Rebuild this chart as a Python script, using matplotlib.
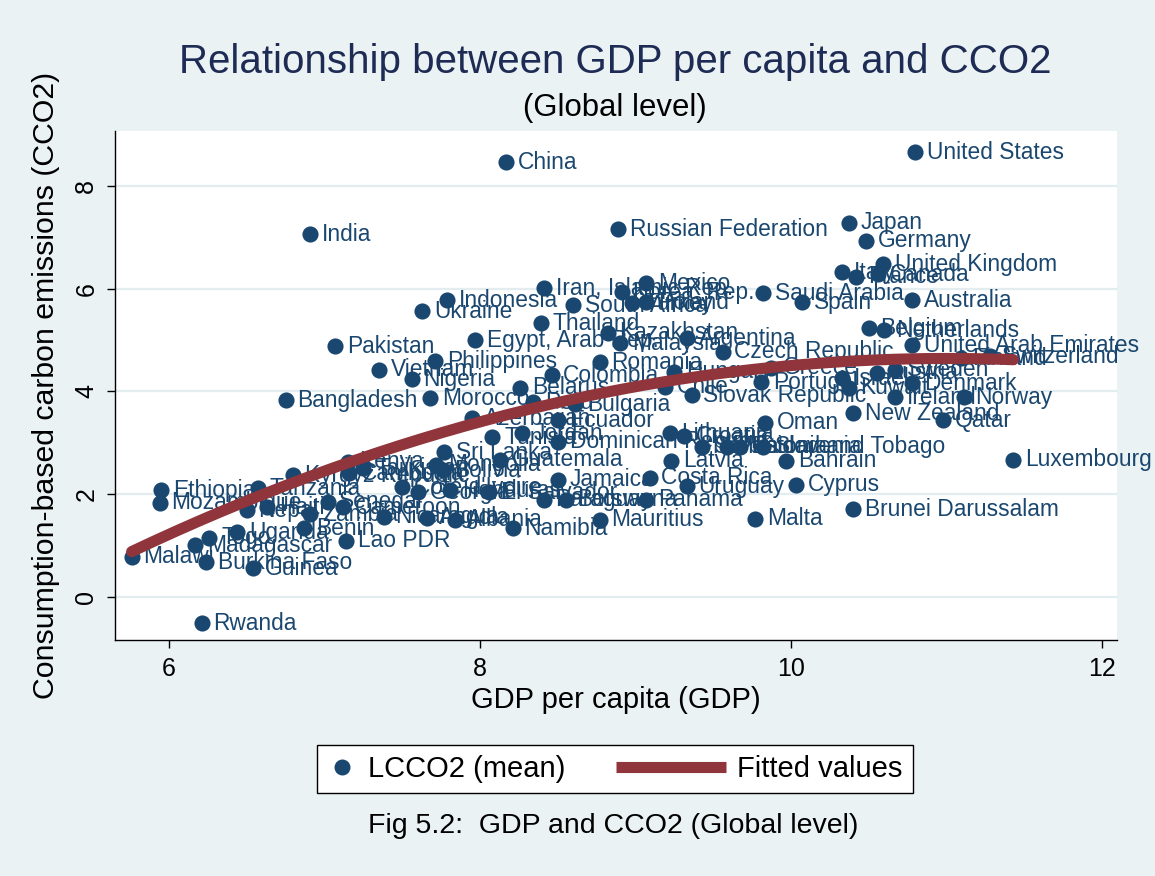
import matplotlib.pyplot as plt
import numpy as np
from matplotlib.legend_handler import HandlerLine2D
from matplotlib.lines import Line2D

plt.rcParams['font.family'] = ['Liberation Sans', 'DejaVu Sans']

# Страны, логарифм ВВП на душу населения и средний LCCO2
country = [
    'United States', 'China', 'India', 'Russian Federation', 'Japan', 'Germany',
    'United Kingdom', 'Italy', 'Canada', 'France', 'Saudi Arabia', 'Spain',
    'Australia', 'Belgium', 'Netherlands', 'United Arab Emirates', 'Switzerland',
    'Finland', 'Austria', 'Sweden', 'Denmark', 'Israel', 'Kuwait', 'Ireland',
    'Norway', 'New Zealand', 'Qatar', 'Greece', 'Portugal', 'Czech Republic',
    'Slovak Republic', 'Oman', 'Bahrain', 'Cyprus', 'Brunei Darussalam', 'Malta',
    'Luxembourg', 'Trinidad and Tobago', 'Slovenia', 'Estonia', 'Croatia',
    'Lithuania', 'Serbia', 'Latvia', 'Costa Rica', 'Uruguay', 'Panama',
    'Botswana', 'Paraguay', 'Mauritius', 'Namibia', 'Albania', 'Angola',
    'Nicaragua', 'El Salvador', 'Honduras', 'Georgia', "Cote d'Ivoire",
    'Jamaica', 'Guatemala', 'Mongolia', 'Bolivia', 'Sri Lanka',
    'Dominican Republic', 'Jordan', 'Tunisia', 'Ecuador', 'Azerbaijan', 'Peru',
    'Bulgaria', 'Morocco', 'Belarus', 'Colombia', 'Romania', 'Chile', 'Hungary',
    'Argentina', 'Malaysia', 'Kazakhstan', 'Thailand', 'Egypt, Arab Rep.',
    'Iran, Islamic Rep.', 'South Africa', 'Mexico', 'Korea, Rep.', 'Turkey',
    'Poland', 'Indonesia', 'Ukraine', 'Pakistan', 'Philippines', 'Vietnam',
    'Nigeria', 'Bangladesh', 'Kenya', 'Tajikistan', 'Cambodia',
    'Kyrgyz Republic', 'Tanzania', 'Ethiopia', 'Mozambique', 'Nepal', 'Haiti',
    'Zambia', 'Senegal', 'Cameroon', 'Benin', 'Lao PDR', 'Uganda', 'Togo',
    'Madagascar', 'Burkina Faso', 'Guinea', 'Malawi', 'Rwanda',
]
gdp = [
    10.80, 8.17, 6.91, 8.89, 10.37, 10.48,
    10.59, 10.33, 10.56, 10.42, 9.82, 10.07,
    10.78, 10.50, 10.60, 10.78, 11.28,
    11.09, 10.55, 10.67, 10.78, 10.33, 10.37, 10.67,
    11.11, 10.40, 10.98, 9.87, 9.81, 9.56,
    9.36, 9.83, 9.97, 10.03, 10.40, 9.77,
    11.43, 9.59, 9.82, 9.67, 9.31,
    9.22, 9.43, 9.23, 9.09, 9.33, 9.07,
    8.55, 8.41, 8.77, 8.21, 7.84, 7.66,
    7.38, 8.06, 7.81, 7.60, 7.50,
    8.50, 8.13, 7.72, 7.76, 7.77,
    8.50, 8.27, 8.08, 8.50, 7.95, 8.34,
    8.61, 7.68, 8.26, 8.46, 8.77, 9.19, 9.25,
    9.33, 8.90, 8.82, 8.39, 7.97,
    8.41, 8.60, 9.07, 8.91, 8.98,
    9.07, 7.79, 7.63, 7.07, 7.71, 7.35,
    7.56, 6.75, 7.15, 7.25, 7.16,
    6.80, 6.57, 5.95, 5.94, 6.50, 6.63,
    6.91, 7.02, 7.12, 6.87, 7.14, 6.44, 6.26,
    6.17, 6.24, 6.54, 5.76, 6.21,
]
cco2 = [
    8.66, 8.46, 7.06, 7.16, 7.28, 6.93,
    6.48, 6.32, 6.28, 6.23, 5.91, 5.74,
    5.78, 5.23, 5.19, 4.90, 4.69,
    4.65, 4.36, 4.42, 4.16, 4.26, 4.07, 3.89,
    3.89, 3.58, 3.44, 4.46, 4.18, 4.77,
    3.93, 3.39, 2.65, 2.18, 1.71, 1.52,
    2.67, 2.92, 2.92, 2.92, 3.13,
    3.19, 2.92, 2.65, 2.32, 2.16, 1.89,
    1.89, 1.89, 1.50, 1.34, 1.50, 1.54,
    1.56, 2.04, 2.08, 2.04, 2.14,
    2.28, 2.67, 2.57, 2.47, 2.82,
    3.02, 3.19, 3.11, 3.44, 3.48, 3.79,
    3.75, 3.87, 4.07, 4.32, 4.57, 4.09, 4.38,
    5.04, 4.94, 5.14, 5.33, 5.00,
    6.01, 5.68, 6.11, 5.93, 5.72,
    5.74, 5.78, 5.56, 4.88, 4.59, 4.42,
    4.24, 3.83, 2.63, 2.51, 2.41,
    2.37, 2.12, 2.08, 1.83, 1.69, 1.75,
    1.61, 1.85, 1.75, 1.34, 1.09, 1.26, 1.15,
    1.01, 0.68, 0.56, 0.78, -0.51,
]

navy = '#1a476f'
maroon = '#90353b'
bg = '#eaf2f3'

gdp = np.array(gdp)
cco2 = np.array(cco2)

# квадратичная аппроксимация (qfit)
coef = np.polyfit(gdp, cco2, 2)
xs = np.linspace(gdp.min(), gdp.max(), 200)
ys = np.polyval(coef, xs)

fig = plt.figure(figsize=(11.55, 8.76), dpi=100, facecolor=bg)
ax = fig.add_axes([115 / 1155, 1 - 640 / 876, 1002 / 1155, 509 / 876])
ax.set_facecolor('white')

ax.scatter(gdp, cco2, s=135, color=navy, zorder=3, linewidths=0,
           label='LCCO2 (mean)')
for name, x, y in zip(country, gdp, cco2):
    ax.annotate(name, (x, y), xytext=(8.5, 0), textcoords='offset points',
                va='center', ha='left', fontsize=16.4, color=navy, zorder=4)
ax.plot(xs, ys, color=maroon, lw=8, solid_capstyle='round', zorder=5,
        label='Fitted values')

ax.set_xlim(5.653, 12.096)
ax.set_ylim(-0.837, 9.07)
ax.set_xticks([6, 8, 10, 12])
ax.set_yticks([0, 2, 4, 6, 8])
ax.tick_params(axis='both', labelsize=18, length=6, width=1, color='black',
               pad=6)
for lab in ax.get_yticklabels():
    lab.set_rotation(90)
    lab.set_va('center')
ax.grid(axis='y', color='#e3ecef', lw=1.6, zorder=0)
ax.set_axisbelow(True)
for side in ['top', 'right']:
    ax.spines[side].set_visible(False)
for side in ['left', 'bottom']:
    ax.spines[side].set_linewidth(1.0)

ax.set_xlabel('GDP per capita (GDP)', fontsize=21, labelpad=4)
ax.set_ylabel('Consumption-based carbon emissions (CCO2)', fontsize=21.8,
              labelpad=10)

fig.text(615 / 1155, 1 - 62 / 876, 'Relationship between GDP per capita and CCO2',
         ha='center', va='center', fontsize=29, color='#1e2c55')
fig.text(615 / 1155, 1 - 108 / 876, '(Global level)', ha='center', va='center',
         fontsize=22.4, color='black')
fig.text(613 / 1155, 1 - 826 / 876, 'Fig 5.2:  GDP and CCO2 (Global level)',
         ha='center', va='center', fontsize=20.5, color='black')


# линия в легенде длиннее своей ячейки (влево)
class LongLine(HandlerLine2D):
    def create_artists(self, legend, orig_handle, xdescent, ydescent, width,
                       height, fontsize, trans):
        y = height / 2 - ydescent
        ln = Line2D([-xdescent - 58, -xdescent + width], [y, y])
        self.update_prop(ln, orig_handle, legend)
        ln.set_solid_capstyle('butt')
        ln.set_transform(trans)
        return [ln]


h1 = Line2D([], [], ls='none', marker='o', markersize=11.5, color=navy,
            markeredgewidth=0)
h2 = Line2D([], [], color=maroon, lw=8)
leg = fig.legend([h1, h2], ['LCCO2 (mean)', 'Fitted values'], ncol=2,
                 loc='center', bbox_to_anchor=(615 / 1155, 1 - 769 / 876),
                 fontsize=21, handlelength=1.0, handletextpad=0.4,
                 columnspacing=4.5, borderpad=0.35, fancybox=False,
                 edgecolor='black', facecolor='white', framealpha=1,
                 handler_map={h2: LongLine()})
leg.get_frame().set_linewidth(1.0)

fig.savefig('out.png', dpi=100, facecolor=bg)
